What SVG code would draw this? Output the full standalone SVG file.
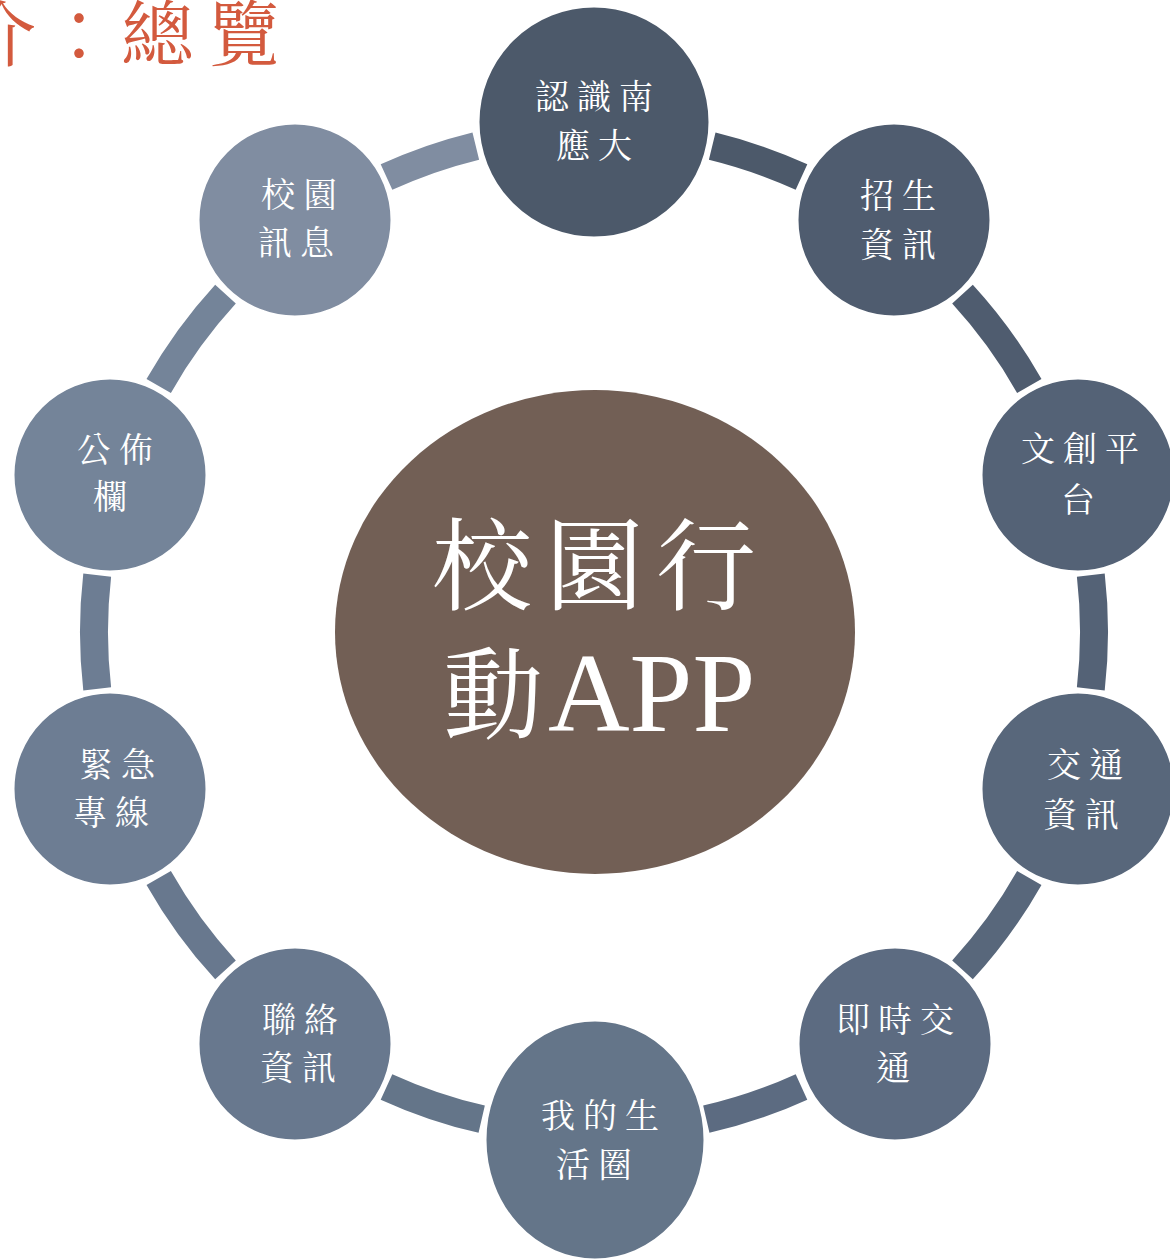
<svg xmlns="http://www.w3.org/2000/svg" width="1170" height="1259" viewBox="0 0 1170 1259">
<style>
.arc{fill:none;stroke-width:28;stroke-linecap:butt}
.node{stroke:#ffffff;stroke-width:3}
.lbl{font-family:"Noto Serif CJK TC","Noto Sans CJK TC",serif;font-size:34px;fill:#ffffff;text-anchor:middle;letter-spacing:8px}
.big{font-family:"Noto Serif CJK TC","Noto Sans CJK TC","Liberation Serif",serif;font-size:100px;fill:#ffffff;text-anchor:middle;letter-spacing:12px}
.big2{font-family:"Noto Serif CJK TC","Noto Sans CJK TC","Liberation Serif",serif;font-size:100px;fill:#ffffff}
.latin{font-family:"Liberation Serif",serif;font-size:113px}
.title{font-family:"Noto Serif CJK TC","Noto Sans CJK TC",serif;font-size:72px;fill:#d35a3e;text-anchor:middle}
</style>
<rect width="1170" height="1259" fill="#ffffff"/>
<text class="title" x="0 79 157 244" y="60">介：總覽</text>
<g id="connectors">
<path class="arc" stroke="#4c596a" d="M712.2 146.1 A500 500 0 0 1 801.5 177.1"/>
<path class="arc" stroke="#4f5c6f" d="M962.5 294.1 A500 500 0 0 1 1029.3 386.0"/>
<path class="arc" stroke="#546276" d="M1090.8 575.2 A500 500 0 0 1 1090.8 688.8"/>
<path class="arc" stroke="#58677b" d="M1029.3 878.0 A500 500 0 0 1 962.5 969.9"/>
<path class="arc" stroke="#5c6b81" d="M801.5 1086.9 A500 500 0 0 1 706.3 1119.2"/>
<path class="arc" stroke="#647589" d="M481.7 1119.2 A500 500 0 0 1 386.5 1086.9"/>
<path class="arc" stroke="#68788e" d="M225.5 969.9 A500 500 0 0 1 158.7 878.0"/>
<path class="arc" stroke="#6d7d93" d="M97.2 688.8 A500 500 0 0 1 97.2 575.2"/>
<path class="arc" stroke="#748499" d="M158.7 386.0 A500 500 0 0 1 225.5 294.1"/>
<path class="arc" stroke="#808da1" d="M386.5 177.1 A500 500 0 0 1 475.8 146.1"/>
</g>
<g id="center">
<ellipse cx="595" cy="632" rx="260" ry="242" fill="#725f55"/>
<text class="big" x="600" y="602">校園行</text>
<text class="big2" x="443" y="731">動<tspan class="latin" x="548">APP</tspan></text>
</g>
<g id="n1"><circle class="node" cx="594" cy="122" r="116" fill="#4c596a"/>
<text class="lbl" x="598" y="109">認識南</text><text class="lbl" x="598" y="158">應大</text></g>
<g id="n2"><circle class="node" cx="894" cy="220" r="97" fill="#4f5c6f"/>
<text class="lbl" x="902" y="208">招生</text><text class="lbl" x="902" y="257">資訊</text></g>
<g id="n3"><circle class="node" cx="1078" cy="475" r="97" fill="#546276"/>
<text class="lbl" x="1084" y="461">文創平</text><text class="lbl" x="1082" y="512">台</text></g>
<g id="n4"><circle class="node" cx="1078" cy="789" r="97" fill="#58677b"/>
<text class="lbl" x="1089" y="777">交通</text><text class="lbl" x="1085" y="827">資訊</text></g>
<g id="n5"><circle class="node" cx="895" cy="1044" r="97" fill="#5c6b81"/>
<text class="lbl" x="899" y="1032">即時交</text><text class="lbl" x="897" y="1080">通</text></g>
<g id="n6"><ellipse class="node" cx="595" cy="1140" rx="110" ry="120" fill="#647589"/>
<text class="lbl" x="604" y="1128">我的生</text><text class="lbl" x="598" y="1177">活圈</text></g>
<g id="n7"><circle class="node" cx="295" cy="1044" r="97" fill="#68788e"/>
<text class="lbl" x="304" y="1032">聯絡</text><text class="lbl" x="302" y="1080">資訊</text></g>
<g id="n8"><circle class="node" cx="110" cy="789" r="97" fill="#6d7d93"/>
<text class="lbl" x="121" y="777">緊急</text><text class="lbl" x="115" y="825">專線</text></g>
<g id="n9"><circle class="node" cx="110" cy="475" r="97" fill="#748499"/>
<text class="lbl" x="119" y="462">公佈</text><text class="lbl" x="114" y="509">欄</text></g>
<g id="n10"><circle class="node" cx="295" cy="220" r="97" fill="#808da1"/>
<text class="lbl" x="303" y="207">校園</text><text class="lbl" x="300" y="255">訊息</text></g>
</svg>
